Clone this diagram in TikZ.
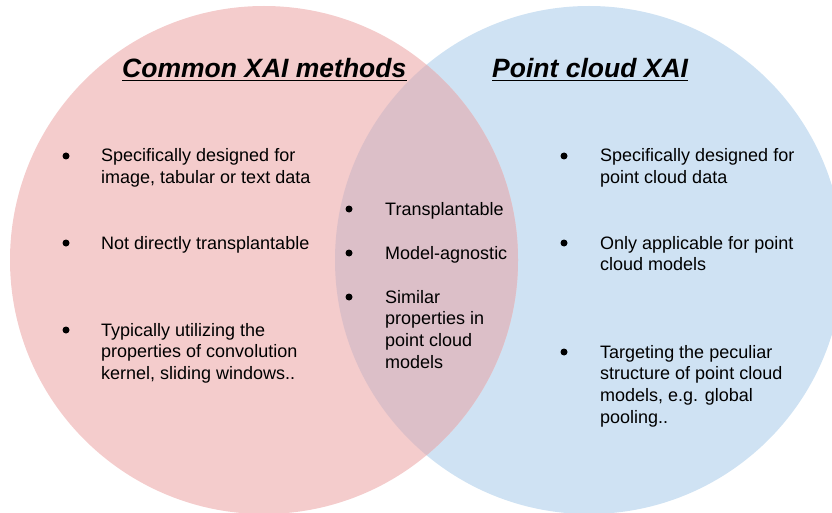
\documentclass[tikz,border=0pt]{standalone}
\usepackage{fontspec}
\setmainfont{Liberation Sans}
\definecolor{leftpink}{HTML}{F4CCCC}
\definecolor{rightblue}{HTML}{CFE2F3}
\definecolor{overlap}{HTML}{DCBFC8}
\tikzset{
  heading/.style={font={\fontsize{26.5}{30}\selectfont\bfseries\itshape}, anchor=base west, inner sep=0pt},
  item/.style={font={\fontsize{18}{21.7}\selectfont}, anchor=base west, inner sep=0pt, align=left},
  dot/.style={circle, fill=black, inner sep=0pt, minimum size=7pt},
}
\begin{document}
\begin{tikzpicture}[x=1pt,y=-1pt]
\useasboundingbox (0,0) rectangle (832,513);
\clip (0,0) rectangle (832,513);
\path[fill=rightblue] (589,260) circle[radius=254pt];
\path[fill=leftpink] (264,260) circle[radius=254pt];
\begin{scope}
\clip (589,260) circle[radius=254pt];
\path[fill=overlap] (264,260) circle[radius=254pt];
\end{scope}

% headings
\node[heading] (cxai) at (122,78) {Common XAI methods};
\node[heading] (pxai) at (492,78) {Point cloud XAI};
\draw[line width=1.8pt] ([yshift=-2.5pt]cxai.base west) -- ([yshift=-2.5pt]cxai.base east);
\draw[line width=1.8pt] ([yshift=-2.5pt]pxai.base west) -- ([yshift=-2.5pt]pxai.base east);

% common XAI methods (base = last line)
\node[dot] (l1d) at (66,156) {};
\node[item] (l1) at (101,183.7) {Specifically designed for\\image, tabular or text data};
\node[dot] (l2d) at (66,243) {};
\node[item] (l2) at (101,249) {Not directly transplantable};
\node[dot] (l3d) at (66,330) {};
\node[item] (l3) at (101,379.4) {Typically utilizing the\\properties of convolution\\kernel, sliding windows..};

% shared
\node[dot] (m1d) at (349,209) {};
\node[item] (m1) at (385,215) {Transplantable};
\node[dot] (m2d) at (349,253) {};
\node[item] (m2) at (385,259) {Model-agnostic};
\node[dot] (m3d) at (349,297) {};
\node[item] (m3) at (385,368.1) {Similar\\properties in\\point cloud\\models};

% point cloud XAI
\node[dot] (r1d) at (564,156) {};
\node[item] (r1) at (600,183.7) {Specifically designed for\\point cloud data};
\node[dot] (r2d) at (564,243) {};
\node[item] (r2) at (600,270.7) {Only applicable for point\\cloud models};
\node[dot] (r3d) at (564,352) {};
\node[item] (r3) at (600,423.1) {Targeting the peculiar\\structure of point cloud\\models, e.g. global\\pooling..};
\end{tikzpicture}
\end{document}
